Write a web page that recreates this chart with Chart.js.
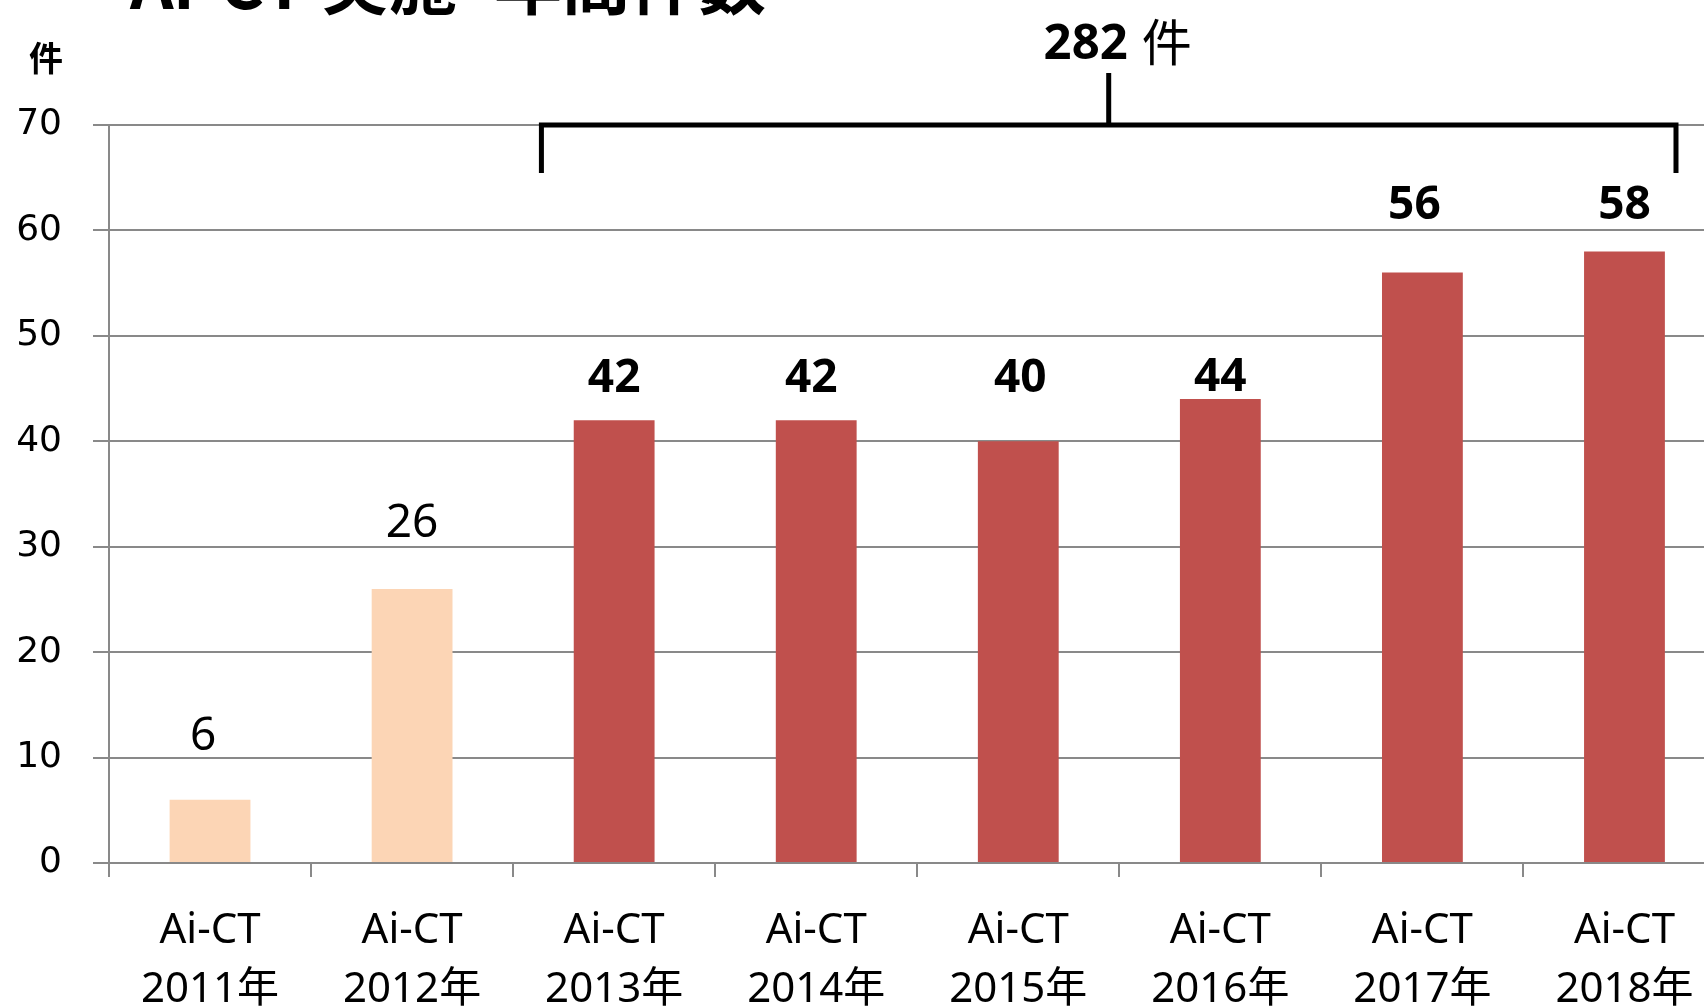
<!DOCTYPE html>
<html>
<head>
<meta charset="utf-8">
<script src="https://cdn.jsdelivr.net/npm/chart.js@4.4.1/dist/chart.umd.min.js"></script>
<style>
  html, body { margin: 0; padding: 0; background: #fff; overflow: hidden; width: 1704px; height: 1008px; }
  #wrap { position: absolute; left: 0; top: -60px; width: 1760px; height: 1100px; }
</style>
</head>
<body>
<div id="wrap"><canvas id="c" width="1760" height="1100"></canvas></div>
<script>
// Ai-CT annual case counts
const titleParts = ['Ai-CT 実施', '年間件数'];
const unitLabel = '件';
const categories = [
  ['Ai-CT', '2011年'], ['Ai-CT', '2012年'], ['Ai-CT', '2013年'], ['Ai-CT', '2014年'],
  ['Ai-CT', '2015年'], ['Ai-CT', '2016年'], ['Ai-CT', '2017年'], ['Ai-CT', '2018年']
];
const counts = [6, 26, 42, 42, 40, 44, 56, 58];
const yTicks = [0, 10, 20, 30, 40, 50, 60, 70];
const spanStart = 2;            // first year included in the bracketed total

const PEACH = '#FCD5B5';
const RED = '#C0504D';
const GRID = '#898989';
const LATIN = '"Noto Sans", "Noto Sans CJK JP", sans-serif';
const CJK = '"Noto Sans CJK JP", "Noto Sans", sans-serif';

// value text above each bar
const valueLabels = {
  id: 'valueLabels',
  afterDatasetsDraw(chart, args, opts) {
    const ctx = chart.ctx;
    const meta = chart.getDatasetMeta(0);
    meta.data.forEach((bar, i) => {
      ctx.save();
      ctx.font = (i >= spanStart ? 'bold ' : '') + '46px ' + LATIN;
      ctx.fillStyle = '#000';
      ctx.textAlign = 'center';
      ctx.textBaseline = 'middle';
      ctx.fillText(String(counts[i]), bar.x + opts.dx[i], bar.y - opts.lift[i] + 3);
      ctx.restore();
    });
  }
};

// title, unit caption and the total bracket
const decorations = {
  id: 'decorations',
  afterDraw(chart) {
    const ctx = chart.ctx;
    const xs = chart.scales.x, ys = chart.scales.y;
    ctx.save();
    ctx.fillStyle = '#000';

    ctx.font = 'bold 68px ' + CJK;
    ctx.textAlign = 'left';
    ctx.textBaseline = 'alphabetic';
    ctx.fillText(titleParts[0], 130, 69);
    ctx.fillText(titleParts[1], 494, 69);

    ctx.font = 'bold 34px ' + CJK;
    ctx.textAlign = 'center';
    ctx.textBaseline = 'middle';
    ctx.fillText(unitLabel, 46, 118);

    const band = xs.getPixelForValue(1) - xs.getPixelForValue(0);
    const left = xs.getPixelForValue(spanStart) - 0.36 * band;
    const right = xs.getPixelForValue(counts.length - 1) + 0.255 * band;
    const lineY = ys.getPixelForValue(ys.max);
    const mid = (left + right) / 2;

    ctx.strokeStyle = '#000';
    ctx.lineWidth = 5;
    ctx.lineJoin = 'miter';
    ctx.lineCap = 'butt';
    ctx.beginPath();
    ctx.moveTo(left, lineY + 48);
    ctx.lineTo(left, lineY);
    ctx.lineTo(right, lineY);
    ctx.lineTo(right, lineY + 48);
    ctx.moveTo(mid, lineY);
    ctx.lineTo(mid, lineY - 52);
    ctx.stroke();

    const total = counts.slice(spanStart).reduce((a, b) => a + b, 0);
    ctx.font = 'bold 49px ' + LATIN;
    ctx.textAlign = 'right';
    ctx.textBaseline = 'middle';
    ctx.fillText(String(total), mid + 19, lineY - 80);
    ctx.font = '50px ' + CJK;
    ctx.textAlign = 'left';
    ctx.fillText(unitLabel, mid + 33, lineY - 83);
    ctx.restore();
  }
};

new Chart(document.getElementById('c'), {
  type: 'bar',
  data: {
    labels: categories,
    datasets: [{
      data: counts,
      backgroundColor: counts.map((v, i) => i < spanStart ? PEACH : RED),
      borderWidth: 0,
      barPercentage: 0.40,
      categoryPercentage: 1.0
    }]
  },
  options: {
    responsive: false,
    devicePixelRatio: 1,
    animation: false,
    layout: { padding: { top: 185, left: 0, right: 34.5, bottom: 0 } },
    plugins: {
      legend: { display: false },
      tooltip: { enabled: false },
      title: { display: false },
      valueLabels: {
        lift: [66, 68, 44, 44, 65, 24, 70, 49],
        dx: [-7, 0, 0, -5, 2, 0, -8, 0]
      }
    },
    scales: {
      x: {
        offset: true,
        grid: { display: true, drawOnChartArea: false, drawTicks: true, tickLength: 14, color: GRID, lineWidth: 2, offset: true },
        border: { display: true, color: GRID, width: 2 },
        ticks: {
          color: '#000',
          font: { family: LATIN, size: 42, lineHeight: 59 / 42 },
          padding: 25,
          maxRotation: 0,
          autoSkip: false
        },
        afterFit(scale) { scale.height = 1100 - 923; }
      },
      y: {
        min: 0,
        max: 70,
        afterBuildTicks(scale) { scale.ticks = yTicks.map(v => ({ value: v })); },
        grid: { color: GRID, lineWidth: 2, drawTicks: true, tickLength: 16 },
        border: { display: true, color: GRID, width: 2 },
        ticks: {
          color: '#000',
          font: { family: '"DejaVu Sans", sans-serif', size: 36 },
          padding: 31
        },
        afterFit(scale) { scale.width = 109; }
      }
    }
  },
  plugins: [valueLabels, decorations]
});
</script>
</body>
</html>
